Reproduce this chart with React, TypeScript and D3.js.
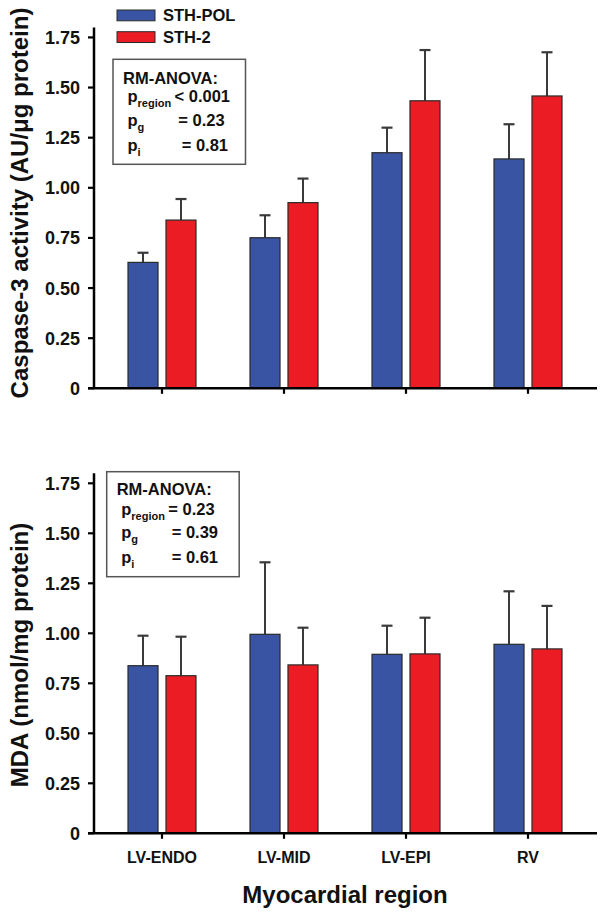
import React from "react";
import * as d3 from "d3";

const categories = ["LV-ENDO", "LV-MID", "LV-EPI", "RV"];
const seriesNames = ["STH-POL", "STH-2"];
const seriesColors = ["#3A54A4", "#EC1C24"];

const caspasePol = [0.628, 0.751, 1.175, 1.144];
const caspasePolSem = [0.048, 0.112, 0.125, 0.173];
const caspaseSth2 = [0.839, 0.926, 1.434, 1.458];
const caspaseSth2Sem = [0.105, 0.12, 0.253, 0.218];

const mdaPol = [0.838, 0.995, 0.895, 0.945];
const mdaPolSem = [0.15, 0.36, 0.143, 0.265];
const mdaSth2 = [0.788, 0.842, 0.897, 0.922];
const mdaSth2Sem = [0.195, 0.186, 0.181, 0.215];

const yTicks = [0, 0.25, 0.5, 0.75, 1.0, 1.25, 1.5, 1.75];

const statsTop = ["< 0.001", "= 0.23", "= 0.81"];
const statsBottom = ["= 0.23", "= 0.39", "= 0.61"];

const FONT = "'Liberation Sans', Arial, Helvetica, sans-serif";
const INK = "#111";

const xBand = d3.scaleBand<string>().domain(categories).range([101, 589]).padding(0);
const inner = d3.scaleBand<string>().domain(seriesNames).range([-34, 34]).paddingInner(0.21);

type PanelProps = {
  y0: number;
  y1: number;
  means: number[][];
  sems: number[][];
  title: string;
  titleCenter: number;
  box: { x: number; y: number; stats: string[]; statX: number[]; base: number[] };
};

function Panel({ y0, y1, means, sems, title, titleCenter, box }: PanelProps) {
  const y = d3.scaleLinear().domain([0, 1.8]).range([y0, y1]);
  const axisX = 94;
  const fmt = (v: number) => (v === 0 ? "0" : d3.format(".2f")(v));
  return (
    <g>
      {categories.map((c, i) => (
        <g key={c}>
          {seriesNames.map((s, j) => {
            const m = means[j][i];
            const e = sems[j][i];
            const bx = (xBand(c) as number) + xBand.bandwidth() / 2 + (inner(s) as number);
            const bw = inner.bandwidth();
            const cx = bx + bw / 2;
            return (
              <g key={s}>
                <line x1={cx} x2={cx} y1={y(m)} y2={y(m + e)} stroke="#3a3a3a" strokeWidth={2} />
                <line x1={cx - 5.5} x2={cx + 5.5} y1={y(m + e)} y2={y(m + e)} stroke="#3a3a3a" strokeWidth={2.2} />
                <rect x={bx} y={y(m)} width={bw} height={y(0) - y(m)} fill={seriesColors[j]} stroke="#2a2a2a" strokeWidth={1.2} />
              </g>
            );
          })}
        </g>
      ))}
      <line x1={axisX} x2={axisX} y1={y(1.8)} y2={y(0)} stroke="#000" strokeWidth={2.5} />
      {yTicks.map((t) => (
        <g key={t}>
          <line x1={axisX - 6} x2={axisX} y1={y(t)} y2={y(t)} stroke="#000" strokeWidth={2.2} />
          <text x={80} y={y(t)} dy="0.36em" textAnchor="end" fontFamily={FONT} fontWeight="bold" fontSize={18} fill={INK}>
            {fmt(t)}
          </text>
        </g>
      ))}
      <line x1={88} x2={597} y1={y(0)} y2={y(0)} stroke="#000" strokeWidth={2.5} />
      {categories.map((c) => {
        const cx = (xBand(c) as number) + xBand.bandwidth() / 2;
        return <line key={c} x1={cx} x2={cx} y1={y(0)} y2={y(0) + 5.5} stroke="#000" strokeWidth={2.2} />;
      })}
      <text
        transform={`translate(28,${titleCenter}) rotate(-90)`}
        textAnchor="middle"
        fontFamily={FONT}
        fontWeight="bold"
        fontSize={24}
        fill={INK}
      >
        {title}
      </text>
      <rect x={box.x} y={box.y} width={132.5} height={105} fill="#fff" stroke="#555" strokeWidth={1.5} />
      <text x={box.x + 10} y={box.base[0]} fontFamily={FONT} fontWeight="bold" fontSize={16.5} fill={INK}>
        RM-ANOVA:
      </text>
      {["region", "g", "i"].map((sub, k) => (
        <g key={sub}>
          <text x={box.x + 14.5} y={box.base[k + 1]} fontFamily={FONT} fontWeight="bold" fontSize={16.5} fill={INK}>
            p
            <tspan fontSize={11} dy={5}>
              {sub}
            </tspan>
          </text>
          <text x={box.statX[k]} y={box.base[k + 1]} fontFamily={FONT} fontWeight="bold" fontSize={16.5} fill={INK}>
            {box.stats[k]}
          </text>
        </g>
      ))}
    </g>
  );
}

export default function App() {
  return (
    <svg width={603} height={913} style={{ position: "absolute", left: 0, top: 0, background: "#fff" }}>
      <rect x={0} y={0} width={603} height={913} fill="#fff" />
      {seriesNames.map((s, j) => (
        <g key={s}>
          <rect x={117} y={10 + j * 21.7} width={38} height={10.8} fill={seriesColors[j]} stroke="#2a2a2a" strokeWidth={1} />
          <text x={163} y={20.8 + j * 21.9} fontFamily={FONT} fontWeight="bold" fontSize={16.5} fill={INK}>
            {s}
          </text>
        </g>
      ))}
      <Panel
        y0={388.3}
        y1={27.4}
        means={[caspasePol, caspaseSth2]}
        sems={[caspasePolSem, caspaseSth2Sem]}
        title="Caspase-3 activity (AU/μg protein)"
        titleCenter={203}
        box={{ x: 113, y: 59.3, stats: statsTop, statX: [174.5, 178.3, 181.7], base: [84, 101.7, 126, 150.7] }}
      />
      <Panel
        y0={833.3}
        y1={473.3}
        means={[mdaPol, mdaSth2]}
        sems={[mdaPolSem, mdaSth2Sem]}
        title="MDA (nmol/mg protein)"
        titleCenter={655}
        box={{ x: 106.7, y: 471.7, stats: statsBottom, statX: [168.3, 171.7, 171.7], base: [495, 515, 538.3, 562.7] }}
      />
      {categories.map((c) => (
        <text
          key={c}
          x={(xBand(c) as number) + xBand.bandwidth() / 2}
          y={863}
          textAnchor="middle"
          fontFamily={FONT}
          fontWeight="bold"
          fontSize={16}
          fill={INK}
        >
          {c}
        </text>
      ))}
      <text x={345} y={902.5} textAnchor="middle" fontFamily={FONT} fontWeight="bold" fontSize={24} fill={INK}>
        Myocardial region
      </text>
    </svg>
  );
}
